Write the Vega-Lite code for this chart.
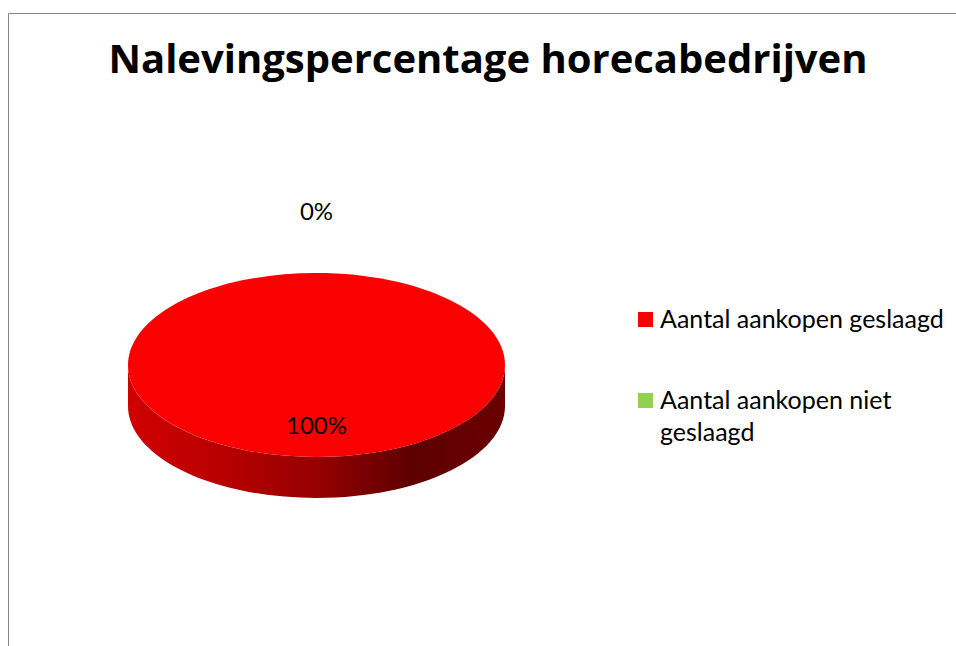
{
  "$schema": "https://vega.github.io/schema/vega-lite/v6.json",
  "width": 948,
  "height": 633,
  "autosize": "none",
  "padding": {"left": 8, "top": 13, "right": 0, "bottom": 0},
  "background": "white",
  "config": {
    "view": {"stroke": "#868686", "strokeWidth": 1},
    "font": "Lato",
    "style": {"guide-label": {"lineHeight": 32}}
  },
  "title": {
    "text": "Nalevingspercentage horecabedrijven",
    "font": "Open Sans",
    "fontSize": 40,
    "fontWeight": "bold",
    "color": "#000000",
    "anchor": "middle",
    "baseline": "alphabetic",
    "offset": -100,
    "dx": 6
  },
  "data": {
    "values": [
      {"category": "Aantal aankopen geslaagd", "share": 1},
      {"category": "Aantal aankopen niet geslaagd", "share": 0}
    ]
  },
  "layer": [
    {
      "mark": {
        "type": "point",
        "shape": "M -1 0 L -1 0.2175 A 1 0.488 0 0 0 1 0.2175 L 1 0 A 1 0.488 0 0 1 -1 0 Z",
        "filled": true,
        "opacity": 1,
        "strokeWidth": 0,
        "xOffset": -165.5,
        "yOffset": 35.5,
        "fill": {
          "gradient": "linear",
          "x1": 0, "y1": 0, "x2": 1, "y2": 0,
          "stops": [
            {"offset": 0, "color": "#D00000"},
            {"offset": 0.25, "color": "#B80000"},
            {"offset": 0.5, "color": "#960000"},
            {"offset": 0.75, "color": "#5E0000"},
            {"offset": 1, "color": "#6A0000"}
          ]
        }
      },
      "encoding": {
        "size": {
          "field": "share",
          "type": "quantitative",
          "scale": {"domain": [0, 1], "range": [0, 142129]},
          "legend": null
        }
      }
    },
    {
      "mark": {
        "type": "point",
        "shape": "M -1 0 A 1 0.488 0 1 1 1 0 A 1 0.488 0 1 1 -1 0 Z",
        "filled": true,
        "opacity": 1,
        "strokeWidth": 0,
        "xOffset": -165.5,
        "yOffset": 35.5
      },
      "encoding": {
        "size": {
          "field": "share",
          "type": "quantitative",
          "scale": {"domain": [0, 1], "range": [0, 142129]},
          "legend": null
        },
        "color": {
          "field": "category",
          "type": "nominal",
          "scale": {
            "domain": ["Aantal aankopen geslaagd", "Aantal aankopen niet geslaagd"],
            "range": ["#FA0000", "#92D050"]
          },
          "legend": {
            "title": null,
            "orient": "none",
            "legendX": 625,
            "legendY": 294,
            "padding": 0,
            "symbolType": "square",
            "symbolSize": 225,
            "symbolStrokeWidth": 0,
            "symbolOpacity": 1,
            "labelFont": "Lato",
            "labelFontSize": 25,
            "labelColor": "#000000",
            "labelOffset": 2,
            "labelLimit": 400,
            "rowPadding": 55,
            "labelExpr": "datum.label == 'Aantal aankopen niet geslaagd' ? ['Aantal aankopen niet', 'geslaagd'] : datum.label"
          }
        }
      }
    },
    {
      "mark": {
        "type": "text",
        "font": "Lato",
        "fontSize": 24,
        "color": "#000000",
        "baseline": "middle",
        "align": "center",
        "xOffset": -165.5
      },
      "encoding": {
        "y": {
          "field": "category",
          "type": "nominal",
          "scale": {
            "type": "point",
            "domain": ["Aantal aankopen geslaagd", "Aantal aankopen niet geslaagd"],
            "range": [414, 200],
            "padding": 0
          },
          "axis": null
        },
        "text": {"field": "share", "type": "quantitative", "format": ".0%"}
      }
    }
  ]
}
